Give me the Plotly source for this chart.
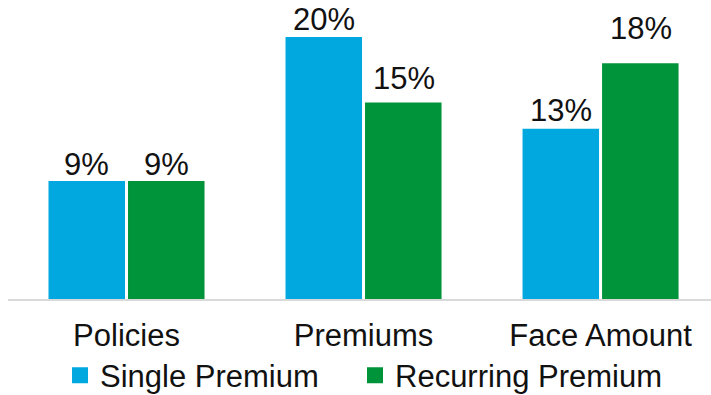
import plotly.graph_objects as go

categories = ["Policies", "Premiums", "Face Amount"]
single_premium = [9, 20, 13]
recurring_premium = [9, 15, 18]
series_names = ["Single Premium", "Recurring Premium"]

# vertical nudges (px) for the value labels of each series
single_label_nudge = [-3, -2, -1]
recurring_label_nudge = [-3, 4, 15]

BLUE = "#00A8DF"
GREEN = "#00943A"
FONT = "Arial, Liberation Sans, sans-serif"
TEXT = "#111111"

fig = go.Figure()
series = [
    (series_names[0], single_premium, BLUE, "legend", -40, single_label_nudge),
    (series_names[1], recurring_premium, GREEN, "legend2", 40, recurring_label_nudge),
]
for name, vals, color, leg, dx, nudges in series:
    fig.add_trace(go.Bar(
        x=categories, y=vals, name=name, marker_color=color,
        marker_line_width=0, showlegend=False,
    ))
    # legend entry with a larger square swatch
    fig.add_trace(go.Scatter(
        x=[None], y=[None], mode="markers", name=name, legend=leg,
        marker=dict(symbol="square", size=16, color=color),
    ))
    for cat, v, dy in zip(categories, vals, nudges):
        fig.add_annotation(
            x=cat, y=v, text=f"{v}%", showarrow=False,
            xanchor="center", yanchor="bottom", xshift=dx, yshift=dy,
            font=dict(size=31, color=TEXT, family=FONT),
        )

legend_common = dict(orientation="h", xanchor="left", y=-0.166, yanchor="top",
                     font=dict(size=31, family=FONT, color=TEXT),
                     itemclick=False, bgcolor="rgba(0,0,0,0)")

fig.update_layout(
    width=711, height=395,
    margin=dict(l=8, r=0, t=0, b=96, autoexpand=False),
    paper_bgcolor="white", plot_bgcolor="white",
    barmode="group", bargap=0.329, bargroupgap=0.038,
    font=dict(family=FONT, size=31, color=TEXT),
    showlegend=True,
    legend=dict(x=0.074, **legend_common),
    legend2=dict(x=0.4936, **legend_common),
    xaxis=dict(range=[-0.5, 2.466], showline=True, linecolor="#D9D9D9", linewidth=2,
               ticks="", showgrid=False, zeroline=False,
               tickfont=dict(size=31, family=FONT, color=TEXT),
               ticklabelstandoff=8),
    yaxis=dict(range=[0, 22.82], visible=False, showgrid=False, zeroline=False),
)

fig.write_html("out.html")
